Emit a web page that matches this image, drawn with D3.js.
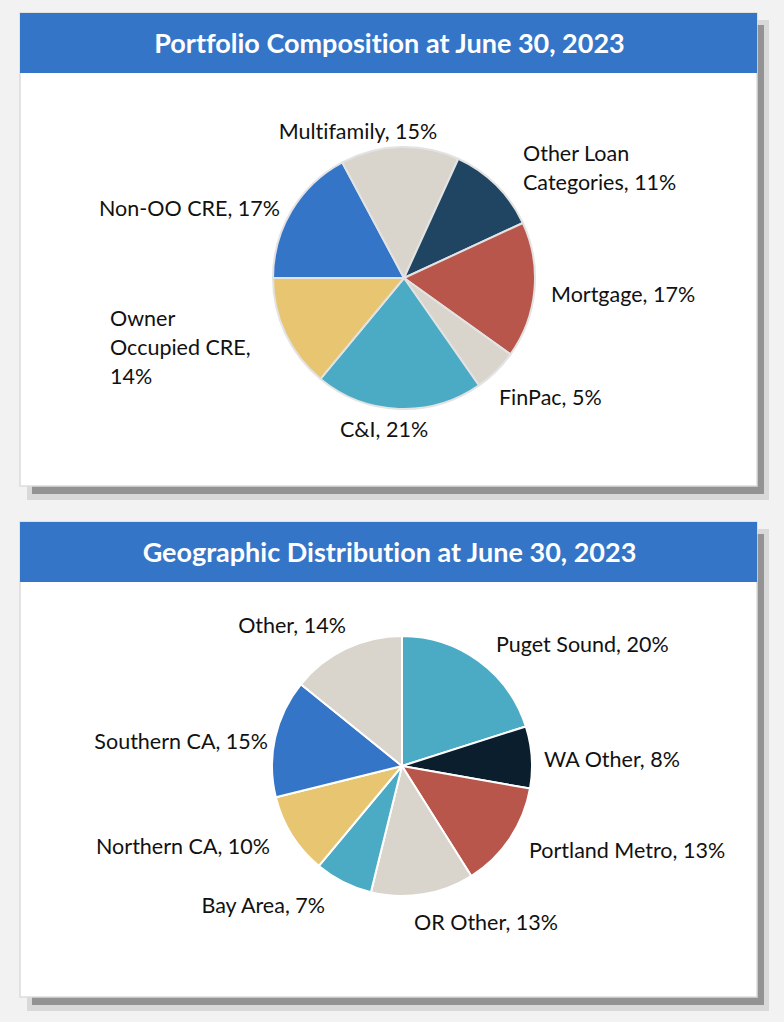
<html>
  <head>
    <script src="https://cdn.jsdelivr.net/npm/d3@7"></script>
    <style>
      body { margin: 0; background-color: #f2f2f2; }
      svg { display: block; }
      text { font-variant-ligatures: none; }
    </style>
  </head>
  <body>
    <script>
      // chart data
      const portfolioNames = ["Non-OO CRE", "Multifamily", "Other Loan Categories", "Mortgage", "FinPac", "C&I", "Owner Occupied CRE"];
      const portfolioValues = [17.2, 14.6, 11.3, 16.8, 5.4, 20.7, 14.0];
      const portfolioLabels = [["Non-OO CRE, 17%"], ["Multifamily, 15%"], ["Other Loan", "Categories, 11%"], ["Mortgage, 17%"], ["FinPac, 5%"], ["C&I, 21%"], ["Owner", "Occupied CRE,", "14%"]];

      const geoNames = ["Puget Sound", "WA Other", "Portland Metro", "OR Other", "Bay Area", "Northern CA", "Southern CA", "Other"];
      const geoValues = [20.1, 7.7, 13.3, 12.8, 7.2, 10.1, 14.7, 14.2];
      const geoLabels = [["Puget Sound, 20%"], ["WA Other, 8%"], ["Portland Metro, 13%"], ["OR Other, 13%"], ["Bay Area, 7%"], ["Northern CA, 10%"], ["Southern CA, 15%"], ["Other, 14%"]];

      // styling / layout
      const blue = "#3575c8", beige = "#d9d5cc", navy = "#1f4563", red = "#b9564b",
            teal = "#4babc5", yellow = "#e8c571", darkNavy = "#0b1e2d";
      const portfolioColors = [blue, beige, navy, red, beige, teal, yellow];
      const geoColors = [teal, darkNavy, red, beige, teal, yellow, blue, beige];

      // label placement: [x, baseline y, anchor]
      const portfolioLabelPos = [[280, 216, "end"], [358, 139, "middle"], [523, 161, "start"], [551, 302, "start"],
                                 [499, 405, "start"], [384, 437, "middle"], [110, 326, "start"]];
      const geoLabelPos = [[496, 652, "start"], [544, 767, "start"], [529, 858, "start"], [486, 930, "middle"],
                           [325, 913, "end"], [270, 854, "end"], [268, 749, "end"], [292, 633, "middle"]];

      const width = 784, height = 1022;
      const svg = d3.select("body").append("svg")
          .attr("width", width)
          .attr("height", height);

      function panel(y0, h, title) {
        const x0 = 20, w = 737;
        svg.append("rect").attr("x", x0 + 7).attr("y", y0 + 7).attr("width", w + 5).attr("height", h + 7).attr("fill", "#d9d9d9");
        svg.append("rect").attr("x", x0 + 12).attr("y", y0 + 12).attr("width", w - 5).attr("height", h - 4).attr("fill", "#939393");
        svg.append("rect").attr("x", x0).attr("y", y0).attr("width", w).attr("height", h)
            .attr("fill", "#fff").attr("stroke", "#dcdcdc").attr("stroke-width", 1.5);
        svg.append("rect").attr("x", x0).attr("y", y0).attr("width", w).attr("height", 60).attr("fill", blue);
        svg.append("text")
            .attr("x", x0 + w / 2 + 1).attr("y", y0 + 40)
            .attr("text-anchor", "middle")
            .attr("fill", "#fff")
            .style("font-family", "Lato, 'Open Sans', sans-serif")
            .style("font-weight", "bold")
            .style("font-size", "27px")
            .text(title);
      }

      function pie(cx, cy, r, values, colors, labels, pos, startDeg, strokeColor) {
        const g = svg.append("g").attr("transform", `translate(${cx},${cy})`);
        const start = startDeg * Math.PI / 180;
        const arcs = d3.pie().sort(null).startAngle(start).endAngle(start + 2 * Math.PI)(values);
        const arc = d3.arc().innerRadius(0).outerRadius(r);
        g.selectAll("path").data(arcs).join("path")
            .attr("d", arc)
            .attr("fill", (d, i) => colors[i])
            .attr("stroke", strokeColor)
            .attr("stroke-width", 2)
            .attr("stroke-linejoin", "round");

        labels.forEach((lines, i) => {
          const t = svg.append("text")
              .attr("x", pos[i][0]).attr("y", pos[i][1])
              .attr("text-anchor", pos[i][2])
              .attr("fill", "#111")
              .style("font-family", "Lato, 'Open Sans', sans-serif")
              .style("font-size", "21.5px");
          lines.forEach((s, j) => {
            t.append("tspan").attr("x", pos[i][0]).attr("dy", j === 0 ? 0 : 29).text(s);
          });
        });
      }

      panel(13, 473, "Portfolio Composition at June 30, 2023");
      pie(404, 278, 131, portfolioValues, portfolioColors, portfolioLabels, portfolioLabelPos, -90, "#e3e3e3");

      panel(522, 475, "Geographic Distribution at June 30, 2023");
      pie(402, 766, 130, geoValues, geoColors, geoLabels, geoLabelPos, 0, "#ffffff");
    </script>
  </body>
</html>
